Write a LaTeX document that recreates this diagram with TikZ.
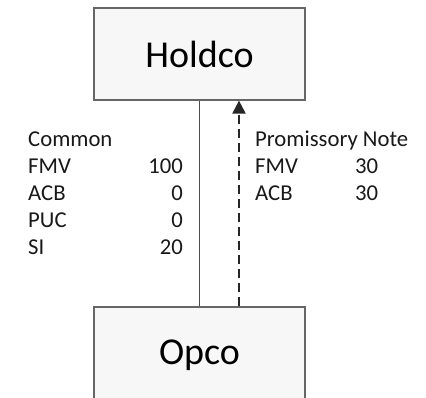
\documentclass[tikz,border=0pt]{standalone}
\usepackage{fontspec}
\setmainfont{Carlito}
\usetikzlibrary{arrows.meta}

\tikzset{
	entity/.style={draw=black!60, line width=1.2bp, fill=black!3, minimum width=211bp, minimum height=92bp, inner sep=0pt, font=\fontsize{38bp}{44bp}\selectfont},
	info/.style={inner sep=0pt, font=\fontsize{22.7bp}{27bp}\selectfont, text=black!90},
}

\begin{document}
\begin{tikzpicture}[x=1bp, y=-1bp]
		\clip (0,0) rectangle (426,398);
		\fill[white] (0,0) rectangle (426,398);

		\node[entity] (holdco) at (199.5,54) {Holdco};
		\node[entity, minimum height=96bp] (opco) at (199.5,355) {Opco};

		\draw[black!70, line width=1bp] (opco.north) -- (holdco.south);
		\coordinate (notefoot) at ([xshift=39.5bp]opco.north);
		\draw[black!85, line width=2bp, dash pattern=on 9bp off 5bp, -{Triangle[length=13bp, width=13bp]}] (notefoot) -- (notefoot |- holdco.south);

		\node[info, anchor=base west] (common) at (28,146) {Common};
		\foreach \Label/\Value [count=\i] in {FMV/100, ACB/0, PUC/0, SI/20}{
			\node[info, anchor=base west] (cl\i) at (28,146+27*\i) {\Label};
			\node[info, anchor=base east] (cv\i) at (183,146+27*\i) {\Value};
		}

		\node[info, anchor=base west] (note) at (255,146) {Promissory Note};
		\foreach \Label/\Value [count=\i] in {FMV/30, ACB/30}{
			\node[info, anchor=base west] (nl\i) at (255,146+27*\i) {\Label};
			\node[info, anchor=base west] (nv\i) at (355,146+27*\i) {\Value};
		}
		\end{tikzpicture}
\end{document}
